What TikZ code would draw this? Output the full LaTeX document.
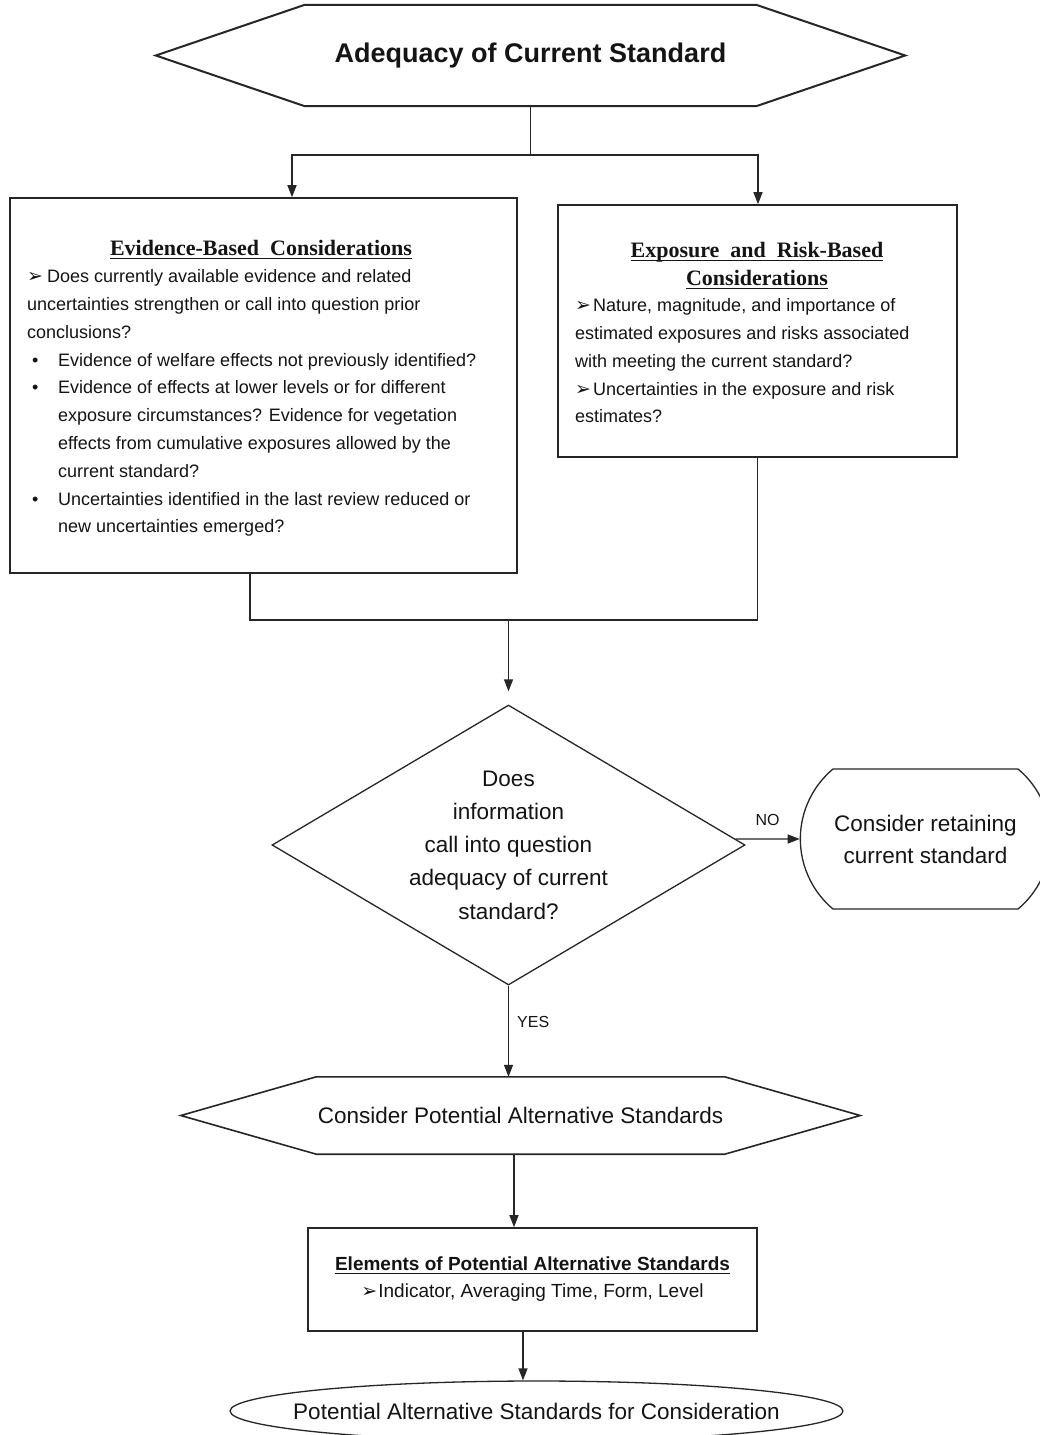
\documentclass[tikz,border=0pt]{standalone}
\usepackage{fontspec}
\setmainfont{Liberation Sans}
\newfontfamily\ttlserif{Liberation Serif}
\newfontfamily\dingfont{DejaVu Sans}
\usetikzlibrary{arrows.meta,shapes.geometric,shapes.misc,calc}

% arrowhead bullet, bullet with hanging indent, underline with a heavier rule
\newcommand{\pointer}[1][19pt]{\makebox[#1][l]{\dingfont\fontsize{19}{19}\selectfont ➢}}
\newcommand{\bul}{\makebox[31pt][l]{\hspace{5pt}•}}
\newcommand{\indt}{\hspace*{31pt}}
\newcommand{\ulined}[1]{\setbox0=\hbox{#1}\leavevmode\rlap{\rule[-3.5pt]{\wd0}{1pt}}\box0}

\begin{document}
\begin{tikzpicture}[x=1pt,y=-1pt,
  every node/.style={text=black!92},
  line/.style={draw=black!85, line width=1.3pt},
  arrow/.style={line, -{Triangle[length=12pt,width=9pt]}},
  box/.style={draw=black!85, line width=1.6pt, inner sep=0pt},
  hexa/.style={draw=none, inner sep=0pt},
  body/.style={font=\fontsize{18}{27.8}\selectfont, align=left, inner sep=0pt, anchor=north west},
  serifttl/.style={font=\ttlserif\bfseries\fontsize{22}{28}\selectfont, inner sep=0pt, align=center},
  lbl/.style={font=\fontsize{16}{16}\selectfont, inner sep=0pt}
]
\useasboundingbox (0,0) rectangle (1040,1435);
\fill[white] (0,0) rectangle (1040,1435);

% ---------- title hexagon ----------
\node[hexa, minimum width=749pt, minimum height=101pt,
      font=\bfseries\fontsize{27}{27}\selectfont] (top) at (530.5,55.5) {Adequacy of Current Standard};
\draw[draw=black!85, line width=2pt]
  ([xshift=149pt]top.north west) -- ([xshift=-149pt]top.north east) -- (top.east)
  -- ([xshift=-149pt]top.south east) -- ([xshift=149pt]top.south west) -- (top.west) -- cycle;

% ---------- evidence box ----------
\node[box, minimum width=507pt, minimum height=375pt] (evid) at (263.5,385.5) {};
\node[serifttl, anchor=base] (evidT) at (261,255) {\ulined{Evidence-Based\ \ Considerations}};
\node[body] (evidB) at (27,269.5) {%
\pointer[20pt]Does currently available evidence and related\\
uncertainties strengthen or call into question prior\\
conclusions?\\
\bul Evidence of welfare effects not previously identified?\\
\bul Evidence of effects at lower levels or for different\\
\indt exposure circumstances? Evidence for vegetation\\
\indt effects from cumulative exposures allowed by the\\
\indt current standard?\\
\bul Uncertainties identified in the last review reduced or\\
\indt new uncertainties emerged?};

% ---------- exposure box ----------
\node[box, minimum width=399pt, minimum height=252pt] (expo) at (757.5,331) {};
\node[serifttl, anchor=north] (expoT) at (757,242) {\ulined{Exposure\ \ and\ \ Risk-Based}\\\ulined{Considerations}};
\node[body] (expoB) at (575,298.5) {%
\pointer[18pt]Nature, magnitude, and importance of\\
estimated exposures and risks associated\\
with meeting the current standard?\\
\pointer[18pt]Uncertainties in the exposure and risk\\
estimates?};

% ---------- decision ----------
\node[diamond, draw=black!85, line width=1.3pt, aspect=1.69, minimum width=473pt,
      minimum height=280pt, inner sep=0pt, align=center,
      font=\fontsize{22.5}{33.2}\selectfont] (dec) at (508.5,845)
      {Does\\information\\call into question\\adequacy of current\\standard?};

\node[rounded rectangle, rounded rectangle arc length=100, draw=black!85, line width=1.3pt,
      minimum width=257pt, minimum height=140pt, align=center,
      font=\fontsize{22.5}{32}\selectfont] (keep) at (925.5,839)
      {Consider retaining\\current standard};

% ---------- alternatives hexagon ----------
\node[hexa, minimum width=679pt, minimum height=77pt,
      font=\fontsize{22.5}{22.5}\selectfont] (alt) at (520.5,1115.5) {Consider Potential Alternative Standards};
\draw[draw=black!85, line width=1.6pt]
  ([xshift=135.5pt]alt.north west) -- ([xshift=-135.5pt]alt.north east) -- (alt.east)
  -- ([xshift=-135.5pt]alt.south east) -- ([xshift=135.5pt]alt.south west) -- (alt.west) -- cycle;

\node[box, minimum width=449pt, minimum height=103pt, align=center,
      font=\fontsize{19}{27}\selectfont] (elem) at (532.5,1279.5)
      {{\bfseries\ulined{Elements of Potential Alternative Standards}}\\\pointer[17pt]Indicator, Averaging Time, Form, Level};

\node[ellipse, draw=black!85, line width=1.3pt, minimum width=613pt, minimum height=60pt,
      inner sep=0pt] (final) at (536.5,1411) {};
\node[inner sep=0pt, font=\fontsize{22.5}{22.5}\selectfont] (finalT) at (final.center)
      {Potential Alternative Standards for Consideration};

% ---------- connectors ----------
\coordinate (fork) at (530.5,155);
\coordinate (forkL) at (292,155);
\coordinate (forkR) at (758,155);
\draw[line] (top.south) -- (fork);
\draw[arrow] (fork) -- (forkL) -- (forkL |- evid.north);
\draw[arrow] (fork) -- (forkR) -- (forkR |- expo.north);

\coordinate (joinL) at (250,620);
\coordinate (joinR) at (757.5,620);
\coordinate (join) at (dec.north |- joinL);
\draw[line] (joinL |- evid.south) -- (joinL) -- (joinR) -- (joinR |- expo.south);
\draw[arrow] (join) -- ([yshift=13pt]dec.north);

\coordinate (noStart) at (intersection of dec.north--dec.east and keep.west--keep.east);
\draw[arrow] (noStart) -- (keep.west) node[lbl, midway, above=13pt] (noLbl) {NO};

\draw[arrow] (dec.south) -- (dec.south |- alt.north) node[lbl, pos=0.4, right=8pt] (yesLbl) {YES};

\coordinate (a1) at ([xshift=-6.5pt]alt.south);
\draw[arrow] (a1) -- (a1 |- elem.north);
\coordinate (a2) at ([xshift=-9.5pt]elem.south);
\draw[arrow] (a2) -- (a2 |- final.north);
\end{tikzpicture}
\end{document}
